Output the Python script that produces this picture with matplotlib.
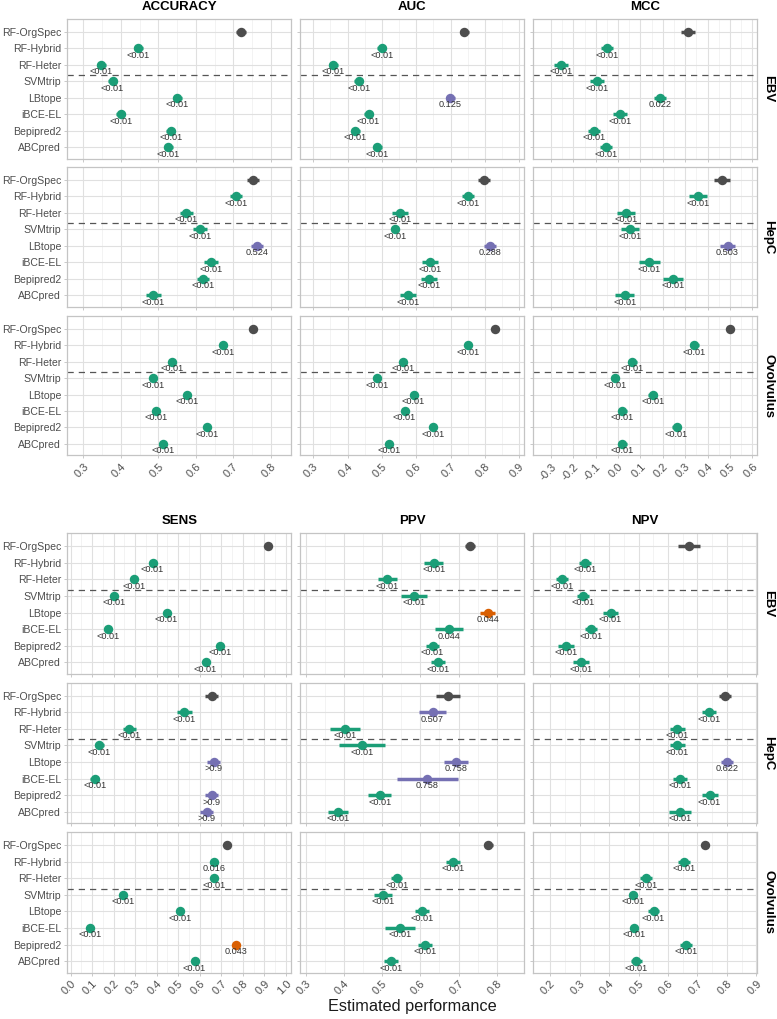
import numpy as np
import matplotlib.pyplot as plt

plt.rcParams['font.family'] = ['Liberation Sans', 'DejaVu Sans']
plt.rcParams['axes.unicode_minus'] = False

# %% data
methods = ["RF-OrgSpec", "RF-Hybrid", "RF-Heter", "SVMtrip",
           "LBtope", "iBCE-EL", "Bepipred2", "ABCpred"]
orgs = ["EBV", "HepC", "Ovolvulus"]

accuracy = {"EBV": [0.721, 0.447, 0.348, 0.378, 0.550, 0.400, 0.533, 0.527],
            "HepC": [0.752, 0.708, 0.575, 0.611, 0.763, 0.641, 0.620, 0.487],
            "Ovolvulus": [0.754, 0.673, 0.536, 0.487, 0.577, 0.493, 0.631, 0.512]}
accuracy_err = {"EBV": [0.013, 0.013, 0.012, 0.012, 0.012, 0.012, 0.012, 0.012],
                "HepC": [0.016, 0.016, 0.018, 0.018, 0.016, 0.018, 0.016, 0.020],
                "Ovolvulus": [0.004, 0.004, 0.004, 0.004, 0.004, 0.004, 0.004, 0.004]}
accuracy_p = {"EBV": ["", "<0.01", "<0.01", "<0.01", "<0.01", "<0.01", "<0.01", "<0.01"],
              "HepC": ["", "<0.01", "<0.01", "<0.01", "0.524", "<0.01", "<0.01", "<0.01"],
              "Ovolvulus": ["", "<0.01", "<0.01", "<0.01", "<0.01", "<0.01", "<0.01", "<0.01"]}

auc = {"EBV": [0.740, 0.500, 0.358, 0.433, 0.699, 0.461, 0.422, 0.487],
       "HepC": [0.798, 0.750, 0.552, 0.538, 0.815, 0.640, 0.637, 0.575],
       "Ovolvulus": [0.830, 0.751, 0.561, 0.487, 0.592, 0.566, 0.649, 0.521]}
auc_err = {"EBV": [0.013, 0.013, 0.013, 0.013, 0.013, 0.013, 0.013, 0.013],
           "HepC": [0.017, 0.017, 0.023, 0.012, 0.017, 0.023, 0.023, 0.023],
           "Ovolvulus": [0.004, 0.004, 0.004, 0.004, 0.004, 0.004, 0.004, 0.004]}
auc_p = {"EBV": ["", "<0.01", "<0.01", "<0.01", "0.125", "<0.01", "<0.01", "<0.01"],
         "HepC": ["", "<0.01", "<0.01", "<0.01", "0.288", "<0.01", "<0.01", "<0.01"],
         "Ovolvulus": ["", "<0.01", "<0.01", "<0.01", "<0.01", "<0.01", "<0.01", "<0.01"]}

mcc = {"EBV": [0.313, -0.051, -0.255, -0.095, 0.187, 0.009, -0.109, -0.053],
       "HepC": [0.463, 0.359, 0.035, 0.053, 0.489, 0.140, 0.246, 0.030],
       "Ovolvulus": [0.502, 0.341, 0.064, -0.014, 0.155, 0.019, 0.261, 0.019]}
mcc_err = {"EBV": [0.030, 0.027, 0.030, 0.030, 0.027, 0.030, 0.027, 0.027],
           "HepC": [0.035, 0.040, 0.042, 0.042, 0.032, 0.045, 0.045, 0.042],
           "Ovolvulus": [0.012, 0.020, 0.020, 0.020, 0.020, 0.020, 0.020, 0.020]}
mcc_p = {"EBV": ["", "<0.01", "<0.01", "<0.01", "0.022", "<0.01", "<0.01", "<0.01"],
         "HepC": ["", "<0.01", "<0.01", "<0.01", "0.503", "<0.01", "<0.01", "<0.01"],
         "Ovolvulus": ["", "<0.01", "<0.01", "<0.01", "<0.01", "<0.01", "<0.01", "<0.01"]}

sens = {"EBV": [0.918, 0.381, 0.295, 0.203, 0.446, 0.173, 0.694, 0.627],
        "HepC": [0.655, 0.528, 0.273, 0.134, 0.665, 0.112, 0.655, 0.632],
        "Ovolvulus": [0.726, 0.667, 0.665, 0.244, 0.507, 0.090, 0.769, 0.576]}
sens_err = {"EBV": [0.004, 0.004, 0.004, 0.004, 0.004, 0.004, 0.004, 0.004],
            "HepC": [0.030, 0.035, 0.030, 0.020, 0.030, 0.020, 0.030, 0.030],
            "Ovolvulus": [0.004, 0.004, 0.004, 0.004, 0.004, 0.004, 0.004, 0.004]}
sens_p = {"EBV": ["", "<0.01", "<0.01", "<0.01", "<0.01", "<0.01", "<0.01", "<0.01"],
          "HepC": ["", "<0.01", "<0.01", "<0.01", ">0.9", "<0.01", ">0.9", ">0.9"],
          "Ovolvulus": ["", "0.016", "<0.01", "<0.01", "<0.01", "<0.01", "0.043", "<0.01"]}

ppv = {"EBV": [0.730, 0.635, 0.513, 0.584, 0.776, 0.675, 0.632, 0.646],
       "HepC": [0.673, 0.632, 0.404, 0.447, 0.693, 0.618, 0.494, 0.385],
       "Ovolvulus": [0.778, 0.686, 0.538, 0.503, 0.604, 0.547, 0.612, 0.523]}
ppv_err = {"EBV": [0.013, 0.025, 0.025, 0.034, 0.020, 0.037, 0.018, 0.018],
           "HepC": [0.031, 0.036, 0.039, 0.060, 0.031, 0.080, 0.030, 0.026],
           "Ovolvulus": [0.012, 0.018, 0.015, 0.024, 0.018, 0.039, 0.018, 0.018]}
ppv_p = {"EBV": ["", "<0.01", "<0.01", "<0.01", "0.044", "0.044", "<0.01", "<0.01"],
         "HepC": ["", "0.507", "<0.01", "<0.01", "0.758", "0.758", "<0.01", "<0.01"],
         "Ovolvulus": ["", "<0.01", "<0.01", "<0.01", "<0.01", "<0.01", "<0.01", "<0.01"]}

npv = {"EBV": [0.672, 0.318, 0.241, 0.312, 0.405, 0.338, 0.253, 0.304],
       "HepC": [0.794, 0.740, 0.632, 0.632, 0.800, 0.641, 0.741, 0.641],
       "Ovolvulus": [0.727, 0.654, 0.525, 0.481, 0.551, 0.486, 0.662, 0.493]}
npv_err = {"EBV": [0.037, 0.020, 0.020, 0.020, 0.024, 0.020, 0.027, 0.027],
           "HepC": [0.020, 0.024, 0.024, 0.024, 0.020, 0.024, 0.027, 0.037],
           "Ovolvulus": [0.010, 0.020, 0.020, 0.015, 0.020, 0.012, 0.020, 0.020]}
npv_p = {"EBV": ["", "<0.01", "<0.01", "<0.01", "<0.01", "<0.01", "<0.01", "<0.01"],
         "HepC": ["", "<0.01", "<0.01", "<0.01", "0.622", "<0.01", "<0.01", "<0.01"],
         "Ovolvulus": ["", "<0.01", "<0.01", "<0.01", "<0.01", "<0.01", "<0.01", "<0.01"]}

# %% layout / style
W, H = 777, 1019
col_x = [(67.3, 291.3), (300.3, 524.3), (533.3, 757.3)]
top_rows = [(19.3, 158.7), (167.3, 307.0), (316.3, 455.3)]
bot_rows = [(533.3, 674.0), (683.0, 823.3), (832.3, 972.7)]

blocks = [
    (top_rows, 7.5, [("ACCURACY", accuracy, accuracy_err, accuracy_p, (0.257, 0.855), np.arange(0.3, 0.81, 0.1)),
                     ("AUC", auc, auc_err, auc_p, (0.262, 0.915), np.arange(0.3, 0.91, 0.1)),
                     ("MCC", mcc, mcc_err, mcc_p, (-0.379, 0.622), np.arange(-0.3, 0.61, 0.1))]),
    (bot_rows, 521, [("SENS", sens, sens_err, sens_p, (-0.015, 1.025), np.arange(0.0, 1.01, 0.1)),
                     ("PPV", ppv, ppv_err, ppv_p, (0.286, 0.872), np.arange(0.3, 0.81, 0.1)),
                     ("NPV", npv, npv_err, npv_p, (0.143, 0.903), np.arange(0.2, 0.91, 0.1))]),
]

c_ref, c_worse, c_better, c_ns = "#4D4D4D", "#1B9E77", "#D95F02", "#7570B3"
txt_c = "#4D4D4D"
ypos = np.arange(8, 0, -1)


def pval(s):
    if s.startswith("<"):
        return 0.005
    if s.startswith(">"):
        return 0.95
    return float(s)


fig = plt.figure(figsize=(W / 100, H / 100), dpi=100)

for rows, title_y, metrics in blocks:
    for j, (name, vals, errs, ps, xlim, ticks) in enumerate(metrics):
        x0, x1 = col_x[j]
        fig.text((x0 + x1) / 2 / W, 1 - title_y / H, name, ha="center", va="center",
                 fontsize=9.5, fontweight="bold")
        for i, org in enumerate(orgs):
            y0, y1 = rows[i]
            ax = fig.add_axes([x0 / W, 1 - y1 / H, (x1 - x0) / W, (y1 - y0) / H])
            ax.set_xlim(*xlim)
            ax.set_ylim(0.3, 8.77)
            ticks = np.round(ticks, 1) + 0.0
            ax.set_xticks(ticks)
            ax.set_xticks(ticks[:-1] + 0.05, minor=True)
            ax.set_yticks(ypos)
            ax.grid(True, which="major", color="#E0E0E0", lw=0.8)
            ax.grid(True, which="minor", axis="x", color="#EEEEEE", lw=0.5)
            ax.set_axisbelow(True)
            for sp in ax.spines.values():
                sp.set_color("#C4C4C4")
                sp.set_linewidth(0.9)
            ax.tick_params(which="both", length=2.5, width=0.5, color="#B3B3B3",
                           labelsize=7.6, labelcolor=txt_c, pad=2)
            ax.tick_params(axis="x", labelsize=8)
            ax.tick_params(which="minor", length=0)
            if j == 0:
                ax.set_yticklabels(methods)
            else:
                ax.set_yticklabels([])
            if i == 2:
                ax.set_xticklabels([f"{t:.1f}" for t in ticks], rotation=45,
                                   ha="right", rotation_mode="anchor")
            else:
                ax.set_xticklabels([])

            ax.axhline(5.37, color="#555555", lw=0.9, ls=(0, (5, 4)), zorder=1)

            v = vals[org]
            e = errs[org]
            p = ps[org]
            for k in range(8):
                if k == 0:
                    col = c_ref
                else:
                    pv = pval(p[k])
                    if pv >= 0.05:
                        col = c_ns
                    elif v[k] < v[0]:
                        col = c_worse
                    else:
                        col = c_better
                ax.hlines(ypos[k], v[k] - e[k], v[k] + e[k], color=col, lw=2.5, zorder=3)
                ax.plot(v[k], ypos[k], "o", ms=6.8, color=col, mec="none", zorder=4)
                if p[k]:
                    ax.text(v[k], ypos[k] - 0.42, p[k], ha="center", va="center",
                            fontsize=6.6, color="#333333", zorder=5)

            if j == 2:
                fig.text(768 / W, 1 - (y0 + y1) / 2 / H, org, rotation=-90,
                         ha="center", va="center", fontsize=9.5, fontweight="bold")

fig.text(412 / W, 1 - 1007 / H, "Estimated performance", ha="center", va="center",
         fontsize=11.7, color="#1A1A1A")

fig.savefig("out.png", dpi=100)
